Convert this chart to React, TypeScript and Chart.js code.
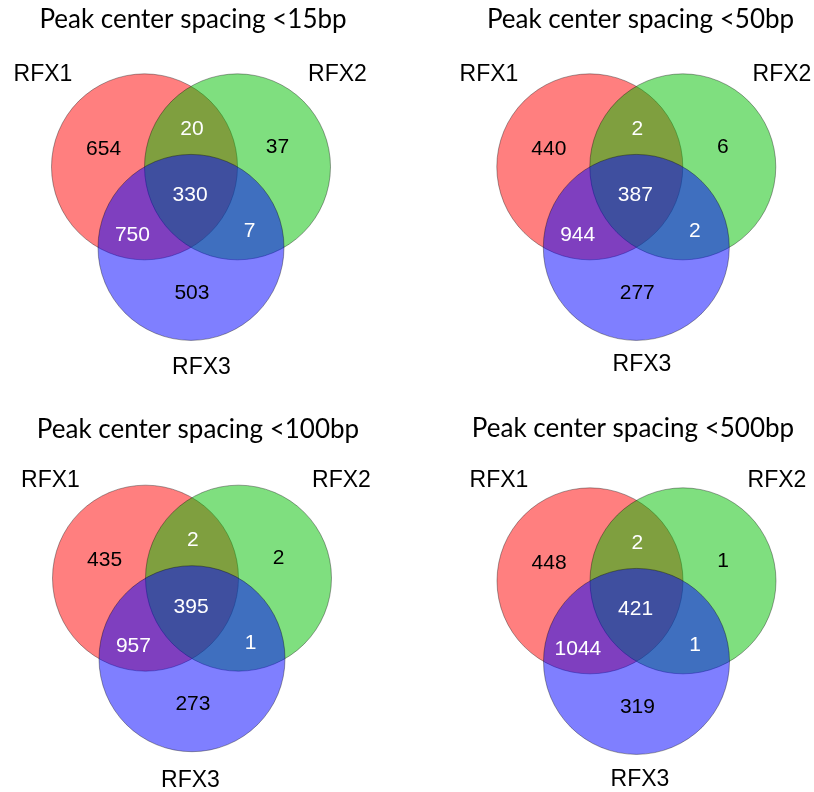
import React, { useEffect, useRef } from "react";
import { Chart, registerables } from "chart.js";

Chart.register(...registerables);

// ---------- data ----------
const panelTitles = [
  "Peak center spacing <15bp",
  "Peak center spacing <50bp",
  "Peak center spacing <100bp",
  "Peak center spacing <500bp",
];
const setNames = ["RFX1", "RFX2", "RFX3"];
// region order: RFX1 only, RFX1∩RFX2, RFX2 only, all three, RFX1∩RFX3, RFX2∩RFX3, RFX3 only
const regionNames = ["RFX1 only", "RFX1&RFX2", "RFX2 only", "RFX1&RFX2&RFX3", "RFX1&RFX3", "RFX2&RFX3", "RFX3 only"];
const counts15bp = [654, 20, 37, 330, 750, 7, 503];
const counts50bp = [440, 2, 6, 387, 944, 2, 277];
const counts100bp = [435, 2, 2, 395, 957, 1, 273];
const counts500bp = [448, 2, 1, 421, 1044, 1, 319];
const panelCounts = [counts15bp, counts50bp, counts100bp, counts500bp];

// ---------- layout / style ----------
const PANEL_W = 407;
const PANEL_H = 396;
const UNIT = 93; // px per circle radius
const panelLayout = [
  { left: 0, top: 0, cx: 191, cy: 193.7, title: [193, 28], sets: [[43, 81], [337.5, 81], [201.5, 374]] },
  { left: 407, top: 0, cx: 636.3, cy: 193.7, title: [640.5, 28], sets: [[489, 81], [782, 81], [642, 371]] },
  { left: 0, top: 396, cx: 192, cy: 605, title: [198, 438], sets: [[50.5, 487], [341.5, 487], [190.5, 787]] },
  { left: 407, top: 396, cx: 636.5, cy: 607.7, title: [633, 437], sets: [[499, 487], [777, 487], [640, 786]] },
];
const circleCenters = [
  [-0.5, 0.2887],
  [0.5, 0.2887],
  [0, -0.5774],
];
const circleFills = ["rgba(255,0,0,0.5)", "rgba(0,192,0,0.5)", "rgba(0,0,255,0.5)"];
const regionPos = [
  [-0.94, 0.5],
  [0.01, 0.71],
  [0.93, 0.52],
  [-0.01, 0],
  [-0.63, -0.43],
  [0.63, -0.39],
  [0.01, -1.05],
];
const regionWhite = [false, true, false, true, true, true, false];
const NUM_FONT = "21px 'Liberation Sans', Arial, sans-serif";
const SET_FONT = "23px 'Liberation Sans', Arial, sans-serif";
const TITLE_FONT = "26px Lato, 'Open Sans', sans-serif";

function VennPanel({ index }: { index: number }) {
  const ref = useRef<HTMLCanvasElement>(null);
  useEffect(() => {
    const L = panelLayout[index];
    const cxl = L.cx - L.left;
    const cyl = L.cy - L.top;
    const toUX = (px: number) => (px - L.cx) / UNIT;
    const toUY = (py: number) => (L.cy - py) / UNIT;
    const counts = panelCounts[index];

    const radiusFn = (c: any) => {
      const s = c.chart.scales.x;
      return Math.abs(s.getPixelForValue(1) - s.getPixelForValue(0));
    };

    // dataset 0 is drawn last (on top): blue, green, red
    const datasets = [2, 1, 0].map((i) => ({
      label: setNames[i],
      data: [{ x: circleCenters[i][0], y: circleCenters[i][1] }],
      showLine: false,
      pointRadius: radiusFn,
      pointHoverRadius: radiusFn,
      pointBackgroundColor: circleFills[i],
      pointBorderColor: "rgba(0,0,0,0.35)",
      pointBorderWidth: 1,
      pointHoverBorderWidth: 1,
      clip: false as any,
    }));

    const textPlugin = {
      id: "vennText" + index,
      afterDatasetsDraw(chart: any) {
        const { ctx } = chart;
        const x = chart.scales.x;
        const y = chart.scales.y;
        ctx.save();
        ctx.textAlign = "center";
        ctx.textBaseline = "alphabetic";
        // title
        ctx.fillStyle = "#000";
        ctx.font = TITLE_FONT;
        ctx.fillText(panelTitles[index], x.getPixelForValue(toUX(L.title[0])), y.getPixelForValue(toUY(L.title[1])));
        // set names
        ctx.font = SET_FONT;
        setNames.forEach((n, i) => {
          ctx.fillText(n, x.getPixelForValue(toUX(L.sets[i][0])), y.getPixelForValue(toUY(L.sets[i][1])));
        });
        // region counts
        ctx.font = NUM_FONT;
        counts.forEach((v, i) => {
          ctx.fillStyle = regionWhite[i] ? "#fff" : "#000";
          const px = x.getPixelForValue(regionPos[i][0]);
          const py = y.getPixelForValue(regionPos[i][1]) + 7.5;
          ctx.fillText(String(v), px, py);
        });
        ctx.restore();
      },
    };

    const chart = new Chart(ref.current as HTMLCanvasElement, {
      type: "scatter",
      data: { datasets: datasets as any },
      options: {
        animation: false,
        responsive: false,
        devicePixelRatio: 1,
        events: [],
        layout: { padding: 0 },
        plugins: { legend: { display: false }, tooltip: { enabled: false }, title: { display: false } },
        scales: {
          x: { type: "linear", display: false, min: -cxl / UNIT, max: (PANEL_W - cxl) / UNIT },
          y: { type: "linear", display: false, min: -(PANEL_H - cyl) / UNIT, max: cyl / UNIT },
        },
      },
      plugins: [textPlugin],
    });
    return () => chart.destroy();
  }, [index]);

  const L = panelLayout[index];
  return (
    <canvas
      ref={ref}
      width={PANEL_W}
      height={PANEL_H}
      style={{ position: "absolute", left: L.left, top: L.top, width: PANEL_W, height: PANEL_H }}
    />
  );
}

export default function App() {
  return (
    <div style={{ position: "absolute", left: 0, top: 0, width: 814, height: 792, background: "#fff" }}>
      {panelTitles.map((_, i) => (
        <VennPanel key={i} index={i} />
      ))}
    </div>
  );
}
